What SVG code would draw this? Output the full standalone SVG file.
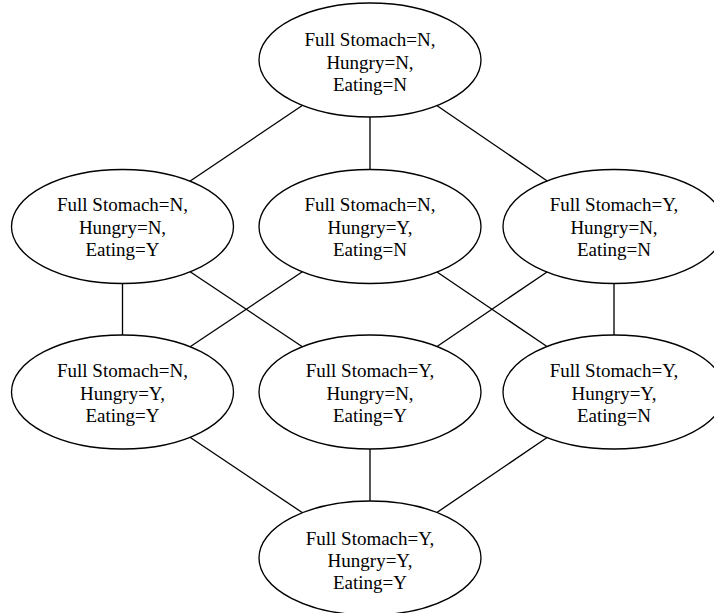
<svg xmlns="http://www.w3.org/2000/svg" width="714" height="613" viewBox="0 0 714 613">
<style>
.n ellipse{fill:none;stroke:#000;stroke-width:1.33}
.n text{font-family:"Liberation Serif","Times New Roman",serif;font-size:19px;fill:#000;text-anchor:middle}
#edges line{stroke:#000;stroke-width:1.33}
</style>
<rect width="714" height="613" fill="#fff"/>
<g id="edges">
<line x1="302.65" y1="105.31" x2="189.85" y2="181.19"/>
<line x1="370" y1="117" x2="370" y2="169.5"/>
<line x1="436.74" y1="105.54" x2="547.26" y2="180.96"/>
<line x1="122.5" y1="283.5" x2="122.5" y2="335"/>
<line x1="190.11" y1="271.71" x2="302.39" y2="346.79"/>
<line x1="302.39" y1="271.71" x2="190.11" y2="346.79"/>
<line x1="437" y1="271.95" x2="547" y2="346.55"/>
<line x1="547" y1="271.95" x2="437" y2="346.55"/>
<line x1="614" y1="283.5" x2="614" y2="335"/>
<line x1="189.97" y1="437.26" x2="302.53" y2="512.74"/>
<line x1="370" y1="449" x2="370" y2="501"/>
<line x1="547.12" y1="437.5" x2="436.88" y2="512.5"/>
</g>
<g id="n_NNN" class="n"><ellipse cx="370" cy="60" rx="111" ry="57"/>
<text x="370" y="46">Full Stomach=N,</text><text x="370" y="68.5">Hungry=N,</text><text x="370" y="91">Eating=N</text></g>
<g id="n_NNY" class="n"><ellipse cx="122.5" cy="226.5" rx="111" ry="57"/>
<text x="122.5" y="211">Full Stomach=N,</text><text x="122.5" y="233.5">Hungry=N,</text><text x="122.5" y="256">Eating=Y</text></g>
<g id="n_NYN" class="n"><ellipse cx="370" cy="226.5" rx="111" ry="57"/>
<text x="370" y="211">Full Stomach=N,</text><text x="370" y="233.5">Hungry=Y,</text><text x="370" y="256">Eating=N</text></g>
<g id="n_YNN" class="n"><ellipse cx="614" cy="226.5" rx="111" ry="57"/>
<text x="614" y="211">Full Stomach=Y,</text><text x="614" y="233.5">Hungry=N,</text><text x="614" y="256">Eating=N</text></g>
<g id="n_NYY" class="n"><ellipse cx="122.5" cy="392" rx="111" ry="57"/>
<text x="122.5" y="377">Full Stomach=N,</text><text x="122.5" y="399.5">Hungry=Y,</text><text x="122.5" y="422">Eating=Y</text></g>
<g id="n_YNY" class="n"><ellipse cx="370" cy="392" rx="111" ry="57"/>
<text x="370" y="377">Full Stomach=Y,</text><text x="370" y="399.5">Hungry=N,</text><text x="370" y="422">Eating=Y</text></g>
<g id="n_YYN" class="n"><ellipse cx="614" cy="392" rx="111" ry="57"/>
<text x="614" y="377">Full Stomach=Y,</text><text x="614" y="399.5">Hungry=Y,</text><text x="614" y="422">Eating=N</text></g>
<g id="n_YYY" class="n"><ellipse cx="370" cy="558" rx="111" ry="57"/>
<text x="370" y="545">Full Stomach=Y,</text><text x="370" y="567">Hungry=Y,</text><text x="370" y="589">Eating=Y</text></g>
</svg>
